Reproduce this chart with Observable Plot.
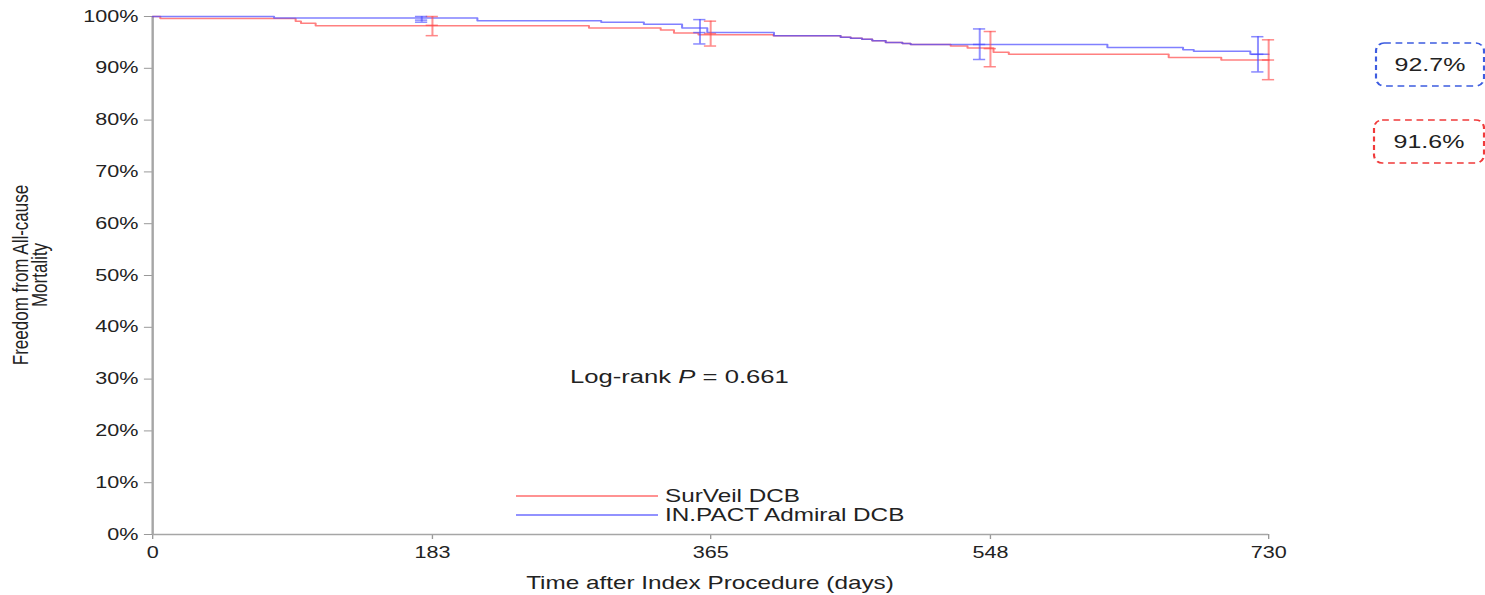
<!DOCTYPE html>
<html>
<head>
<meta charset="utf-8">
<script src="https://cdn.jsdelivr.net/npm/d3@7"></script>
<script src="https://cdn.jsdelivr.net/npm/@observablehq/plot@0.6"></script>
<style>
  html, body { margin: 0; padding: 0; background: #fff; overflow: hidden; }
  #chart svg { transform: scaleX(1.35); transform-origin: 0 0; display: block; }
</style>
</head>
<body>
<div id="chart"></div>
<script>
// ---------- data ----------
const groups = ["SurVeil DCB", "IN.PACT Admiral DCB"];

const surveilDays = [0, 5, 93.5, 97, 106.6, 285.4, 332.3, 341, 357, 406, 450, 456.6, 464, 470.7, 479.5, 490.4, 495.8, 522, 533, 550, 560, 664.6, 699, 730];
const surveilSurv = [100, 99.6, 99.1, 98.7, 98.2, 97.8, 97.4, 96.8, 96.5, 96.3, 96.0, 95.8, 95.6, 95.3, 95.0, 94.8, 94.6, 94.3, 93.9, 93.1, 92.7, 92.1, 91.6, 91.6];

const inpactDays = [0, 79.4, 212.4, 293.4, 321.3, 346.3, 362.8, 406.4, 450, 456.6, 464, 470.7, 479.5, 490.4, 495.8, 624.5, 674, 681, 718, 730];
const inpactSurv = [100, 99.7, 99.2, 98.9, 98.5, 97.8, 96.9, 96.3, 96.0, 95.8, 95.6, 95.3, 95.0, 94.8, 94.6, 94.0, 93.6, 93.3, 92.7, 92.7];

// confidence-interval bars
const surveilBarDays = [183, 365, 548, 730];
const surveilBarLo   = [96.3, 94.3, 90.3, 87.8];
const surveilBarMid  = [98.3, 96.7, 93.8, 91.6];
const surveilBarHi   = [100, 99.1, 97.1, 95.5];

const inpactBarDays = [176, 358, 541, 723];
const inpactBarLo   = [98.9, 94.7, 91.7, 89.3];
const inpactBarMid  = [99.3, 96.9, 94.6, 92.7];
const inpactBarHi   = [100, 99.4, 97.6, 96.1];

const xTicks = [0, 183, 365, 548, 730];
const yTicks = [0, 10, 20, 30, 40, 50, 60, 70, 80, 90, 100];

const xLabel = "Time after Index Procedure (days)";
const yLabelLines = ["Freedom from All-cause", "Mortality"];
const pValue = "0.661";

// ---------- build ----------
const S = 1.35;               // horizontal stretch of the reference
const W = 1485 / S, H = 595;
const red = "#ff4a4a", blue = "#4a4aff";
const font = "'Liberation Sans', Arial, Helvetica, sans-serif";

const curves = [
  ...surveilDays.map((d, i) => ({group: groups[0], day: d, surv: surveilSurv[i]})),
  ...inpactDays.map((d, i) => ({group: groups[1], day: d, surv: inpactSurv[i]}))
];
const bars = [
  ...surveilBarDays.map((d, i) => ({group: groups[0], day: d, lo: surveilBarLo[i], mid: surveilBarMid[i], hi: surveilBarHi[i]})),
  ...inpactBarDays.map((d, i) => ({group: groups[1], day: d, lo: inpactBarLo[i], mid: inpactBarMid[i], hi: inpactBarHi[i]}))
];
const capHalf = 4;
const capOpts = {x1: d => d.day - capHalf, x2: d => d.day + capHalf, stroke: "group", strokeWidth: 1.5, strokeOpacity: 0.65};

const plot = Plot.plot({
  width: W, height: H,
  marginLeft: 152 / S, marginRight: 217 / S, marginTop: 16, marginBottom: 61,
  style: {fontFamily: font, fontSize: "16px", color: "#222", background: "#fff", overflow: "visible"},
  x: {domain: [0, 730]},
  y: {domain: [0, 100]},
  color: {domain: groups, range: [red, blue]},
  marks: [
    Plot.axisY({ticks: yTicks, tickFormat: d => d + "%", tickSize: 6, tickPadding: 4.5, stroke: "#999", fill: "#222", label: null, fontSize: 16}),
    Plot.axisX({ticks: xTicks, tickFormat: d => String(d), tickSize: 5, tickPadding: 7, stroke: "#999", fill: "#222", label: null, fontSize: 16}),
    Plot.ruleX([0], {stroke: "#a6a6a6", strokeWidth: 1.8}),
    Plot.ruleY([0], {stroke: "#a6a6a6", strokeWidth: 1.6}),
    Plot.line(curves, {x: "day", y: "surv", z: "group", stroke: "group", curve: "step-after", strokeWidth: 1.5, strokeOpacity: 0.7}),
    Plot.ruleX(bars, {x: "day", y1: "lo", y2: "hi", stroke: "group", strokeWidth: 1.5, strokeOpacity: 0.6}),
    Plot.ruleY(bars, {y: "lo", ...capOpts}),
    Plot.ruleY(bars, {y: "mid", ...capOpts}),
    Plot.ruleY(bars, {y: "hi", ...capOpts})
  ]
});

// ---------- annotations ----------
const svg = d3.select(plot);
const g = svg.append("g").attr("font-family", font).attr("fill", "#222").attr("text-anchor", "start");
const midY = (16 + 534) / 2;

// y label (two lines)
g.append("text").attr("transform", `translate(${28 / S},${midY}) rotate(-90)`)
  .attr("text-anchor", "middle").attr("font-size", 17).text(yLabelLines[0]);
g.append("text").attr("transform", `translate(${47 / S},${midY}) rotate(-90)`)
  .attr("text-anchor", "middle").attr("font-size", 17).text(yLabelLines[1]);

// x label
g.append("text").attr("x", (152 + 1268) / 2 / S).attr("y", 589)
  .attr("text-anchor", "middle").attr("font-size", 18).text(xLabel);

// log-rank
const lr = g.append("text").attr("x", 570 / S).attr("y", 383).attr("font-size", 19).attr("text-anchor", "start");
lr.append("tspan").text("Log-rank ");
lr.append("tspan").attr("font-style", "italic").text("P");
lr.append("tspan").text(" = " + pValue);

// legend
[[groups[0], red, 496], [groups[1], blue, 515]].forEach(([name, col, y]) => {
  g.append("line").attr("x1", 516 / S).attr("x2", 658 / S).attr("y1", y).attr("y2", y)
    .attr("stroke", col).attr("stroke-width", 1.3).attr("stroke-opacity", 0.8);
  g.append("text").attr("x", 665 / S).attr("y", y).attr("dy", "0.35em")
    .attr("text-anchor", "start").attr("font-size", 18).text(name);
});

// final value boxes
const finals = [
  {text: inpactSurv[inpactSurv.length - 1].toFixed(1) + "%", col: "#3d5ce0", x0: 1376, x1: 1484, y0: 43, y1: 86},
  {text: surveilSurv[surveilSurv.length - 1].toFixed(1) + "%", col: "#f03a3a", x0: 1374, x1: 1484, y0: 120, y1: 163}
];
finals.forEach(f => {
  g.append("rect").attr("x", f.x0 / S).attr("y", f.y0)
    .attr("width", (f.x1 - f.x0) / S).attr("height", f.y1 - f.y0)
    .attr("rx", 6).attr("ry", 8).attr("fill", "none")
    .attr("stroke", f.col).attr("stroke-width", 1.6).attr("stroke-dasharray", "5 3.5");
  g.append("text").attr("x", (f.x0 + f.x1) / 2 / S).attr("y", (f.y0 + f.y1) / 2).attr("dy", "0.35em")
    .attr("text-anchor", "middle").attr("font-size", 18.5).text(f.text);
});

document.getElementById("chart").appendChild(plot);
</script>
</body>
</html>
